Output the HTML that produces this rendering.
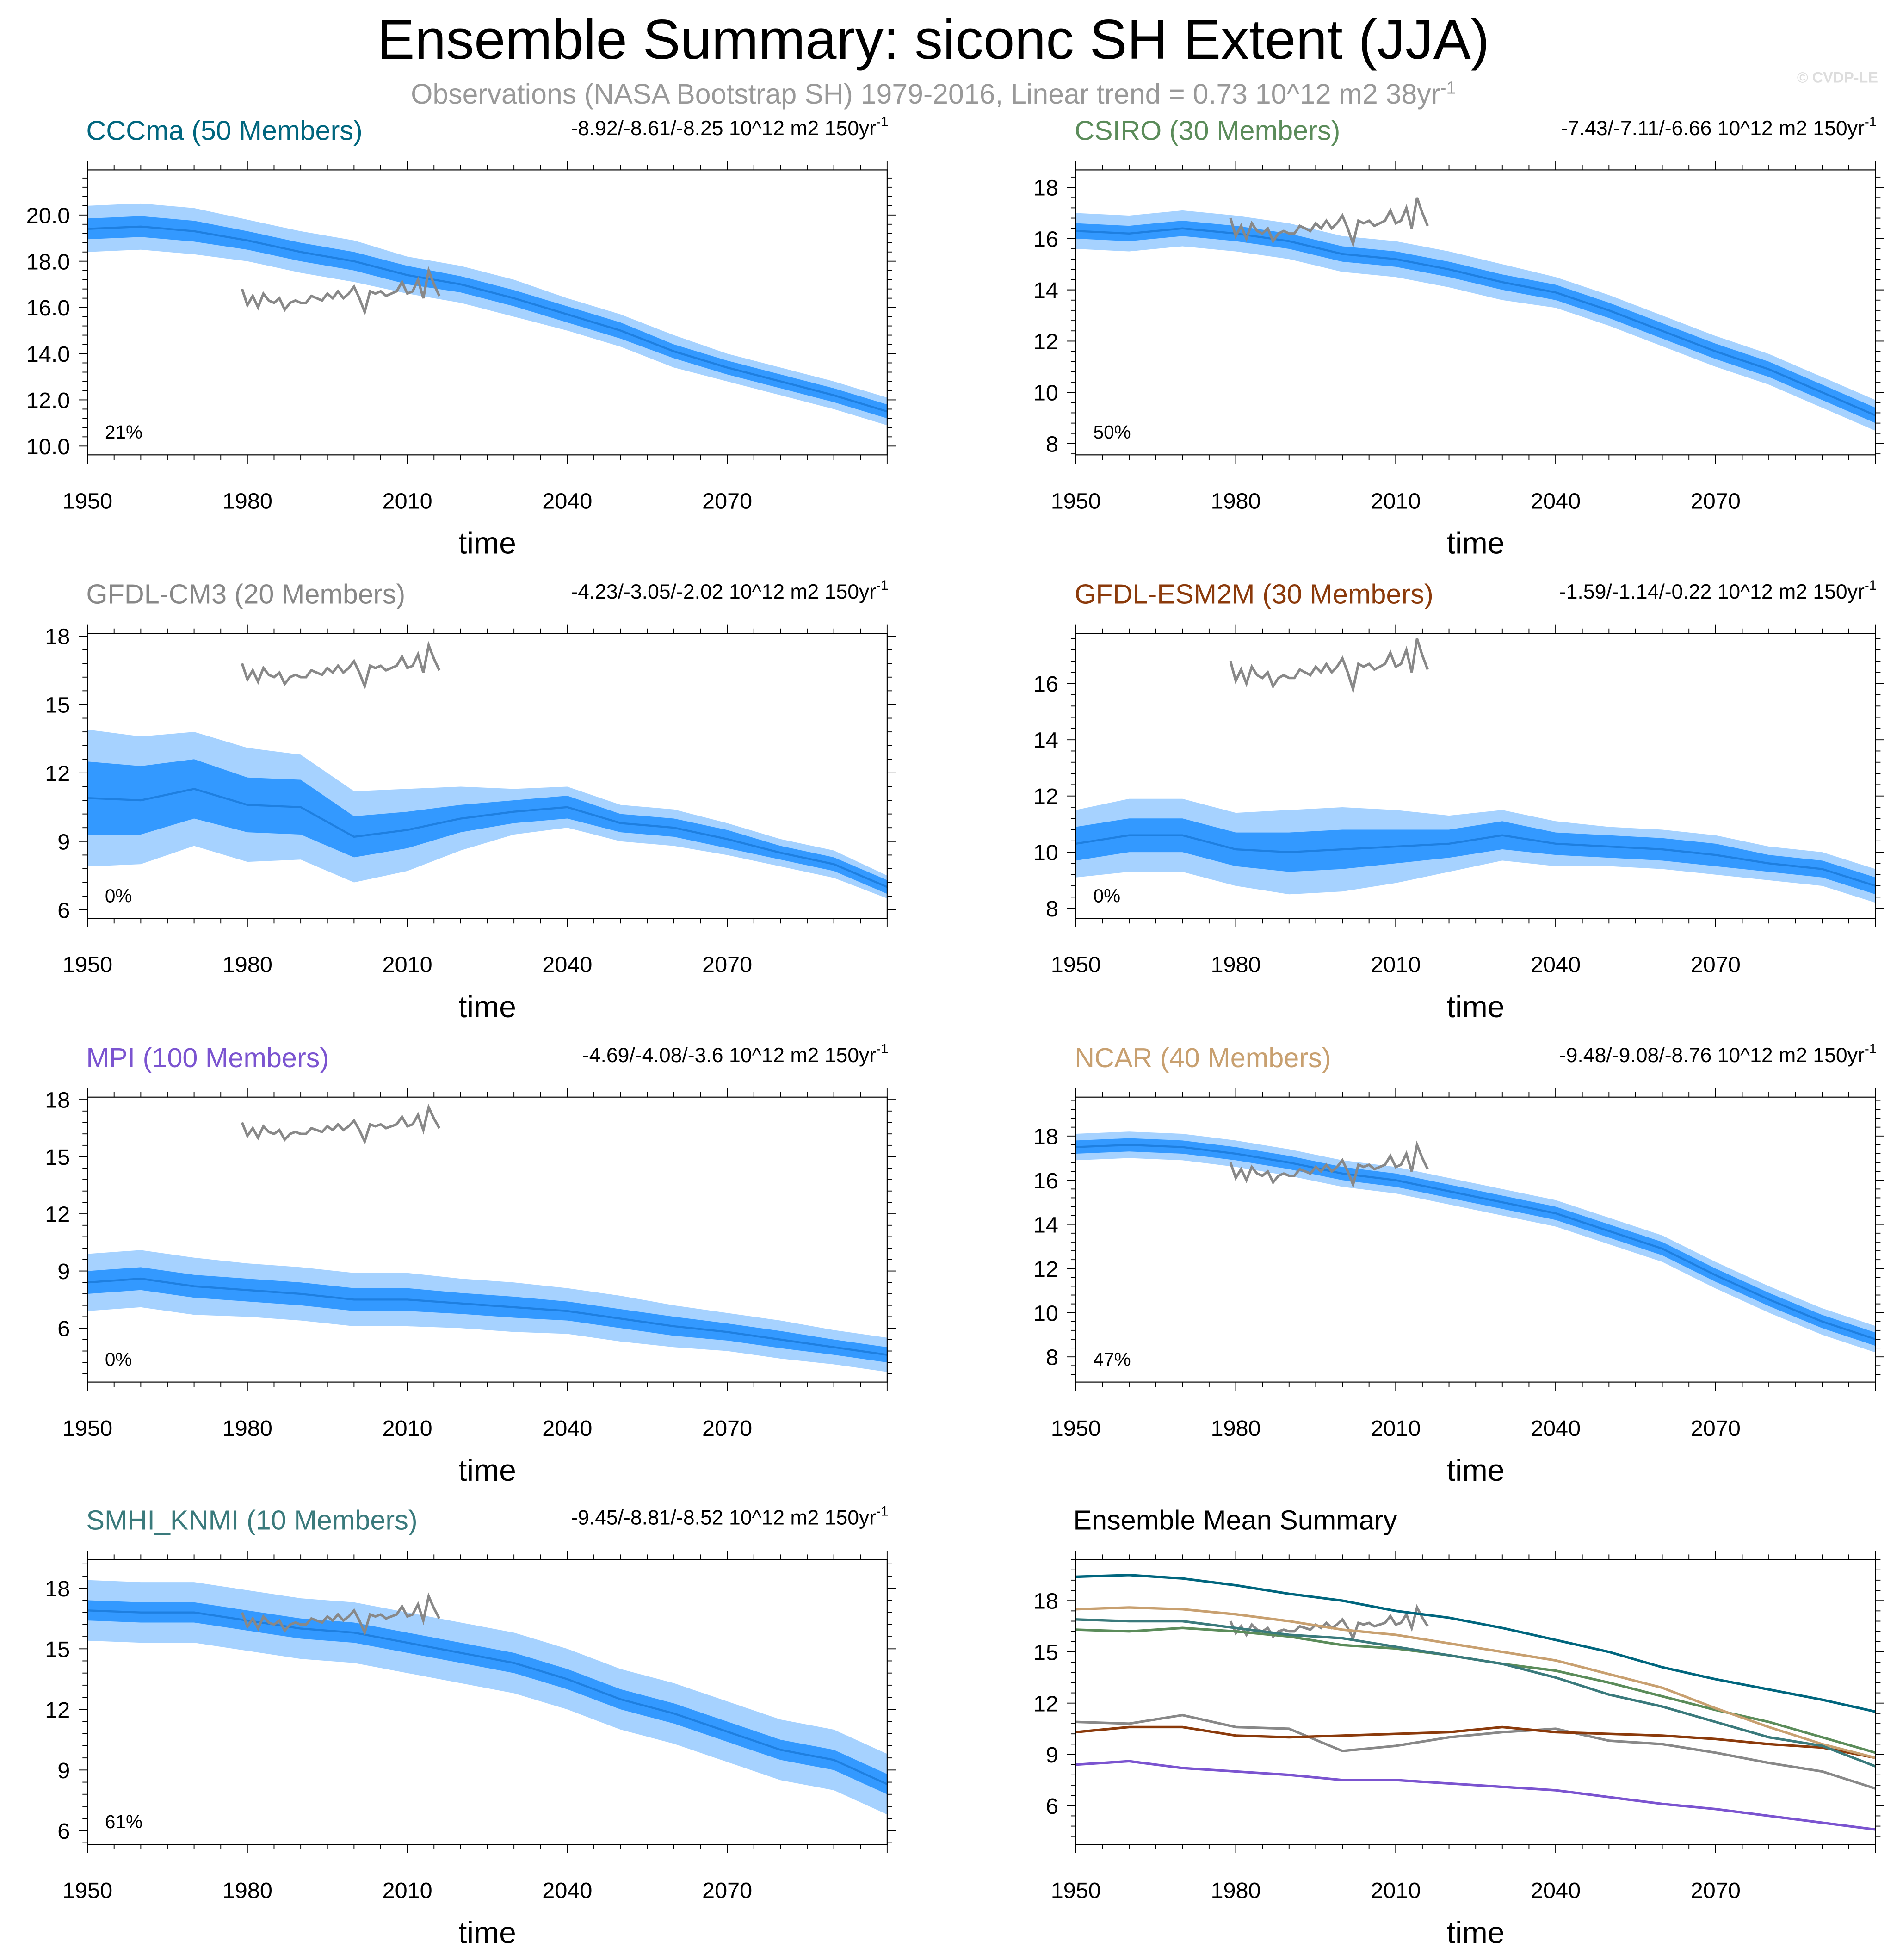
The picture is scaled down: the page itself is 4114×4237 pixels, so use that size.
<!DOCTYPE html>
<html><head><meta charset="utf-8"><style>
html,body{margin:0;padding:0;background:#fff;}
svg{display:block;font-family:"Liberation Sans",sans-serif;}
</style></head><body>
<svg id="chart" xmlns="http://www.w3.org/2000/svg" width="4114" height="4237" viewBox="0 0 1523 1568.5">
<rect width="1523" height="1568.5" fill="#fff"/>
<text x="747" y="47" font-size="45" text-anchor="middle">Ensemble Summary: siconc SH Extent (JJA)</text>
<text x="747" y="83" font-size="22.5" fill="#999" text-anchor="middle">Observations (NASA Bootstrap SH) 1979-2016, Linear trend = 0.73 10^12 m2 38yr<tspan dy="-8" font-size="14">-1</tspan></text>
<text x="1503" y="66" font-size="12" fill="#ddd" text-anchor="end" font-weight="bold">© CVDP-LE</text>
<g id="panels"></g>
</svg>
<script>
// ----- data -----
const years = [1950,1960,1970,1980,1990,2000,2010,2020,2030,2040,2050,2060,2070,2080,2090,2100];
const obsYears = [1979,1980,1981,1982,1983,1984,1985,1986,1987,1988,1989,1990,1991,1992,1993,1994,1995,1996,1997,1998,1999,2000,2001,2002,2003,2004,2005,2006,2007,2008,2009,2010,2011,2012,2013,2014,2015,2016];
const obsValues = [16.8,16.1,16.5,16.0,16.6,16.3,16.2,16.4,15.9,16.2,16.3,16.2,16.2,16.5,16.4,16.3,16.6,16.4,16.7,16.4,16.6,16.9,16.4,15.8,16.7,16.6,16.7,16.5,16.6,16.7,17.1,16.6,16.7,17.2,16.4,17.6,17.0,16.5];
const meanCCCma = [19.4,19.5,19.3,18.9,18.4,18.0,17.4,17.0,16.4,15.7,15.0,14.1,13.4,12.8,12.2,11.5];
const sdCCCma = [0.45,0.45,0.45,0.4,0.4,0.4,0.4,0.35,0.35,0.35,0.35,0.3,0.3,0.3,0.3,0.3];
const rngCCCma = [1.0,1.0,1.0,0.9,0.9,0.9,0.8,0.8,0.8,0.7,0.7,0.7,0.6,0.6,0.6,0.6];
const meanCSIRO = [16.3,16.2,16.4,16.2,15.9,15.4,15.2,14.8,14.3,13.9,13.2,12.4,11.6,10.9,10.0,9.1];
const sdCSIRO = [0.3,0.3,0.3,0.3,0.3,0.3,0.3,0.3,0.3,0.3,0.3,0.3,0.3,0.3,0.3,0.3];
const rngCSIRO = [0.7,0.7,0.7,0.7,0.7,0.7,0.7,0.7,0.7,0.6,0.6,0.6,0.6,0.6,0.6,0.6];
const meanCM3 = [10.9,10.8,11.3,10.6,10.5,9.2,9.5,10.0,10.3,10.5,9.8,9.6,9.1,8.5,8.0,7.0];
const sdCM3 = [1.6,1.5,1.3,1.2,1.2,0.9,0.8,0.6,0.5,0.5,0.4,0.4,0.4,0.3,0.3,0.3];
const rngCM3 = [3.0,2.8,2.5,2.5,2.3,2.0,1.8,1.4,1.0,0.9,0.8,0.8,0.7,0.6,0.6,0.5];
const meanESM2M = [10.3,10.6,10.6,10.1,10.0,10.1,10.2,10.3,10.6,10.3,10.2,10.1,9.9,9.6,9.4,8.8];
const sdESM2M = [0.6,0.6,0.6,0.6,0.7,0.7,0.6,0.5,0.5,0.4,0.4,0.4,0.4,0.3,0.3,0.3];
const rngESM2M = [1.2,1.3,1.3,1.3,1.5,1.5,1.3,1.0,0.9,0.8,0.7,0.7,0.7,0.6,0.6,0.6];
const meanMPI = [8.4,8.6,8.2,8.0,7.8,7.5,7.5,7.3,7.1,6.9,6.5,6.1,5.8,5.4,5.0,4.6];
const sdMPI = [0.6,0.6,0.6,0.6,0.6,0.6,0.6,0.55,0.55,0.5,0.5,0.5,0.45,0.45,0.4,0.4];
const rngMPI = [1.5,1.5,1.5,1.4,1.4,1.4,1.4,1.3,1.3,1.2,1.2,1.1,1.0,1.0,0.9,0.9];
const meanNCAR = [17.5,17.6,17.5,17.2,16.8,16.3,16.0,15.5,15.0,14.5,13.7,12.9,11.7,10.6,9.6,8.8];
const sdNCAR = [0.3,0.3,0.3,0.3,0.3,0.3,0.3,0.3,0.3,0.3,0.3,0.3,0.3,0.3,0.3,0.3];
const rngNCAR = [0.6,0.6,0.6,0.6,0.6,0.6,0.6,0.6,0.6,0.6,0.6,0.6,0.6,0.6,0.6,0.6];
const meanSMHI = [16.9,16.8,16.8,16.4,16.0,15.8,15.3,14.8,14.3,13.5,12.5,11.8,10.9,10.0,9.5,8.3];
const sdSMHI = [0.5,0.5,0.5,0.5,0.5,0.5,0.5,0.5,0.5,0.5,0.5,0.5,0.5,0.5,0.5,0.5];
const rngSMHI = [1.5,1.5,1.5,1.5,1.5,1.5,1.5,1.5,1.5,1.5,1.5,1.5,1.5,1.5,1.5,1.5];
const xTickYears = [1950,1980,2010,2040,2070];

// ----- layout -----
const NS = "http://www.w3.org/2000/svg";
const root = document.getElementById('panels');
function mk(tag, attrs, parent){const e=document.createElementNS(NS,tag);for(const k in attrs)e.setAttribute(k,attrs[k]);(parent||root).appendChild(e);return e;}
const models = [
 {key:'cccma',name:'CCCma (50 Members)',color:'#00667e',mean:meanCCCma,sd:sdCCCma,rng:rngCCCma,trend:'-8.92/-8.61/-8.25',pct:'21%',col:0,row:0,dom:[9.62,21.95],ticks:[10,12,14,16,18,20],fmt:1},
 {key:'csiro',name:'CSIRO (30 Members)',color:'#5b8c5a',mean:meanCSIRO,sd:sdCSIRO,rng:rngCSIRO,trend:'-7.43/-7.11/-6.66',pct:'50%',col:1,row:0,dom:[7.56,18.68],ticks:[8,10,12,14,16,18],fmt:0},
 {key:'gfdl-cm3',name:'GFDL-CM3 (20 Members)',color:'#888888',mean:meanCM3,sd:sdCM3,rng:rngCM3,trend:'-4.23/-3.05/-2.02',pct:'0%',col:0,row:1,dom:[5.62,18.11],ticks:[6,9,12,15,18],fmt:0},
 {key:'gfdl-esm2m',name:'GFDL-ESM2M (30 Members)',color:'#8b3a0b',mean:meanESM2M,sd:sdESM2M,rng:rngESM2M,trend:'-1.59/-1.14/-0.22',pct:'0%',col:1,row:1,dom:[7.64,17.78],ticks:[8,10,12,14,16],fmt:0},
 {key:'mpi',name:'MPI (100 Members)',color:'#7b54d0',mean:meanMPI,sd:sdMPI,rng:rngMPI,trend:'-4.69/-4.08/-3.6',pct:'0%',col:0,row:2,dom:[3.17,18.13],ticks:[6,9,12,15,18],fmt:0},
 {key:'ncar',name:'NCAR (40 Members)',color:'#c8a070',mean:meanNCAR,sd:sdNCAR,rng:rngNCAR,trend:'-9.48/-9.08/-8.76',pct:'47%',col:1,row:2,dom:[6.86,19.76],ticks:[8,10,12,14,16,18],fmt:0},
 {key:'smhi-knmi',name:'SMHI_KNMI (10 Members)',color:'#3a7a7c',mean:meanSMHI,sd:sdSMHI,rng:rngSMHI,trend:'-9.45/-8.81/-8.52',pct:'61%',col:0,row:3,dom:[5.32,19.42],ticks:[6,9,12,15,18],fmt:0}
];
const colX=[70,861], W=640, rowY=[136,507,878,1248], H=228;

function axes(g,x0,y0,dom,ticks,fmt,xs,ys){
  mk('rect',{x:x0,y:y0,width:W,height:H,fill:'none',stroke:'#000','stroke-width':0.8},g);
  for(let yr=1950;yr<=2100;yr+=5){
    const X=xs(yr), major=(yr-1950)%30===0, len=major?7:4;
    mk('line',{x1:X,x2:X,y1:y0+H,y2:y0+H+len,stroke:'#000','stroke-width':0.7},g);
    mk('line',{x1:X,x2:X,y1:y0,y2:y0-len,stroke:'#000','stroke-width':0.7},g);
  }
  xTickYears.forEach(yr=>{const t=mk('text',{x:xs(yr),y:y0+H+43,'font-size':18,'text-anchor':'middle'},g);t.textContent=yr;});
  const xt=mk('text',{x:x0+W/2,y:y0+H+79,'font-size':24.5,'text-anchor':'middle'},g);xt.textContent='time';
  
  
  const step=ticks[1]-ticks[0];
  for(let v=Math.ceil(dom[0]/(step/5))*(step/5); v<=dom[1]; v+=step/5){
    const Y=ys(v), major=ticks.some(t=>Math.abs(t-v)<1e-6), len=major?7:4;
    mk('line',{x1:x0,x2:x0-len,y1:Y,y2:Y,stroke:'#000','stroke-width':0.7},g);
    mk('line',{x1:x0+W,x2:x0+W+len,y1:Y,y2:Y,stroke:'#000','stroke-width':0.7},g);
  }
  ticks.forEach(v=>{const t=mk('text',{x:x0-14,y:ys(v)+6.5,'font-size':18,'text-anchor':'end'},g);t.textContent=v.toFixed(fmt);});
}
function pathOf(xsArr,vals,xs,ys){return vals.map((v,i)=>(i?'L':'M')+xs(xsArr[i]).toFixed(2)+','+ys(v).toFixed(2)).join('');}
function band(lo,hi,xs,ys){
  let d=years.map((y,i)=>(i?'L':'M')+xs(y).toFixed(2)+','+ys(hi[i]).toFixed(2)).join('');
  for(let i=years.length-1;i>=0;i--) d+='L'+xs(years[i]).toFixed(2)+','+ys(lo[i]).toFixed(2);
  return d+'Z';
}
models.forEach(m=>{
  const x0=colX[m.col], y0=rowY[m.row];
  const g=mk('g',{});
  
  
  const xs=y=>x0+(y-1950)/150*W;
  const ys=v=>y0+H-(v-m.dom[0])/(m.dom[1]-m.dom[0])*H;
  const outer=mk('path',{d:band(m.mean.map((v,i)=>v-m.rng[i]),m.mean.map((v,i)=>v+m.rng[i]),xs,ys),fill:'#a6d2ff'},g);
  
  
  const inner=mk('path',{d:band(m.mean.map((v,i)=>v-m.sd[i]),m.mean.map((v,i)=>v+m.sd[i]),xs,ys),fill:'#3399ff'},g);
  
  
  const ml=mk('path',{d:pathOf(years,m.mean,xs,ys),fill:'none',stroke:'#1e7fe0','stroke-width':1.6},g);
  
  
  const ol=mk('path',{d:pathOf(obsYears,obsValues,xs,ys),fill:'none',stroke:'#888','stroke-width':2},g);
  
  
  axes(g,x0,y0,m.dom,m.ticks,m.fmt,xs,ys);
  const t=mk('text',{x:x0-1,y:y0-24,'font-size':22,fill:m.color},g);t.textContent=m.name;
  
  
  const tr=mk('text',{x:x0+W+1,y:y0-28,'font-size':16.5,'text-anchor':'end'},g);
  tr.innerHTML=m.trend+' 10^12 m2 150yr<tspan dy="-7" font-size="11">-1</tspan>';
  
  
  const p=mk('text',{x:x0+14,y:y0+H-13,'font-size':15},g);p.textContent=m.pct;
  
  
});
// summary panel
(function(){
  const x0=861,y0=1248,dom=[3.73,20.41];
  const g=mk('g',{});
  
  
  const xs=y=>x0+(y-1950)/150*W;
  const ys=v=>y0+H-(v-dom[0])/(dom[1]-dom[0])*H;
  const ol=mk('path',{d:pathOf(obsYears,obsValues,xs,ys),fill:'none',stroke:'#888','stroke-width':2},g);
  
  
  models.forEach(m=>{
    const l=mk('path',{d:pathOf(years,m.mean,xs,ys),fill:'none',stroke:m.color,'stroke-width':2},g);
    
    
  });
  axes(g,x0,y0,dom,[6,9,12,15,18],0,xs,ys);
  const t=mk('text',{x:x0-2,y:y0-24,'font-size':22},g);t.textContent='Ensemble Mean Summary';
  
  
})();
</script>
</body></html>
